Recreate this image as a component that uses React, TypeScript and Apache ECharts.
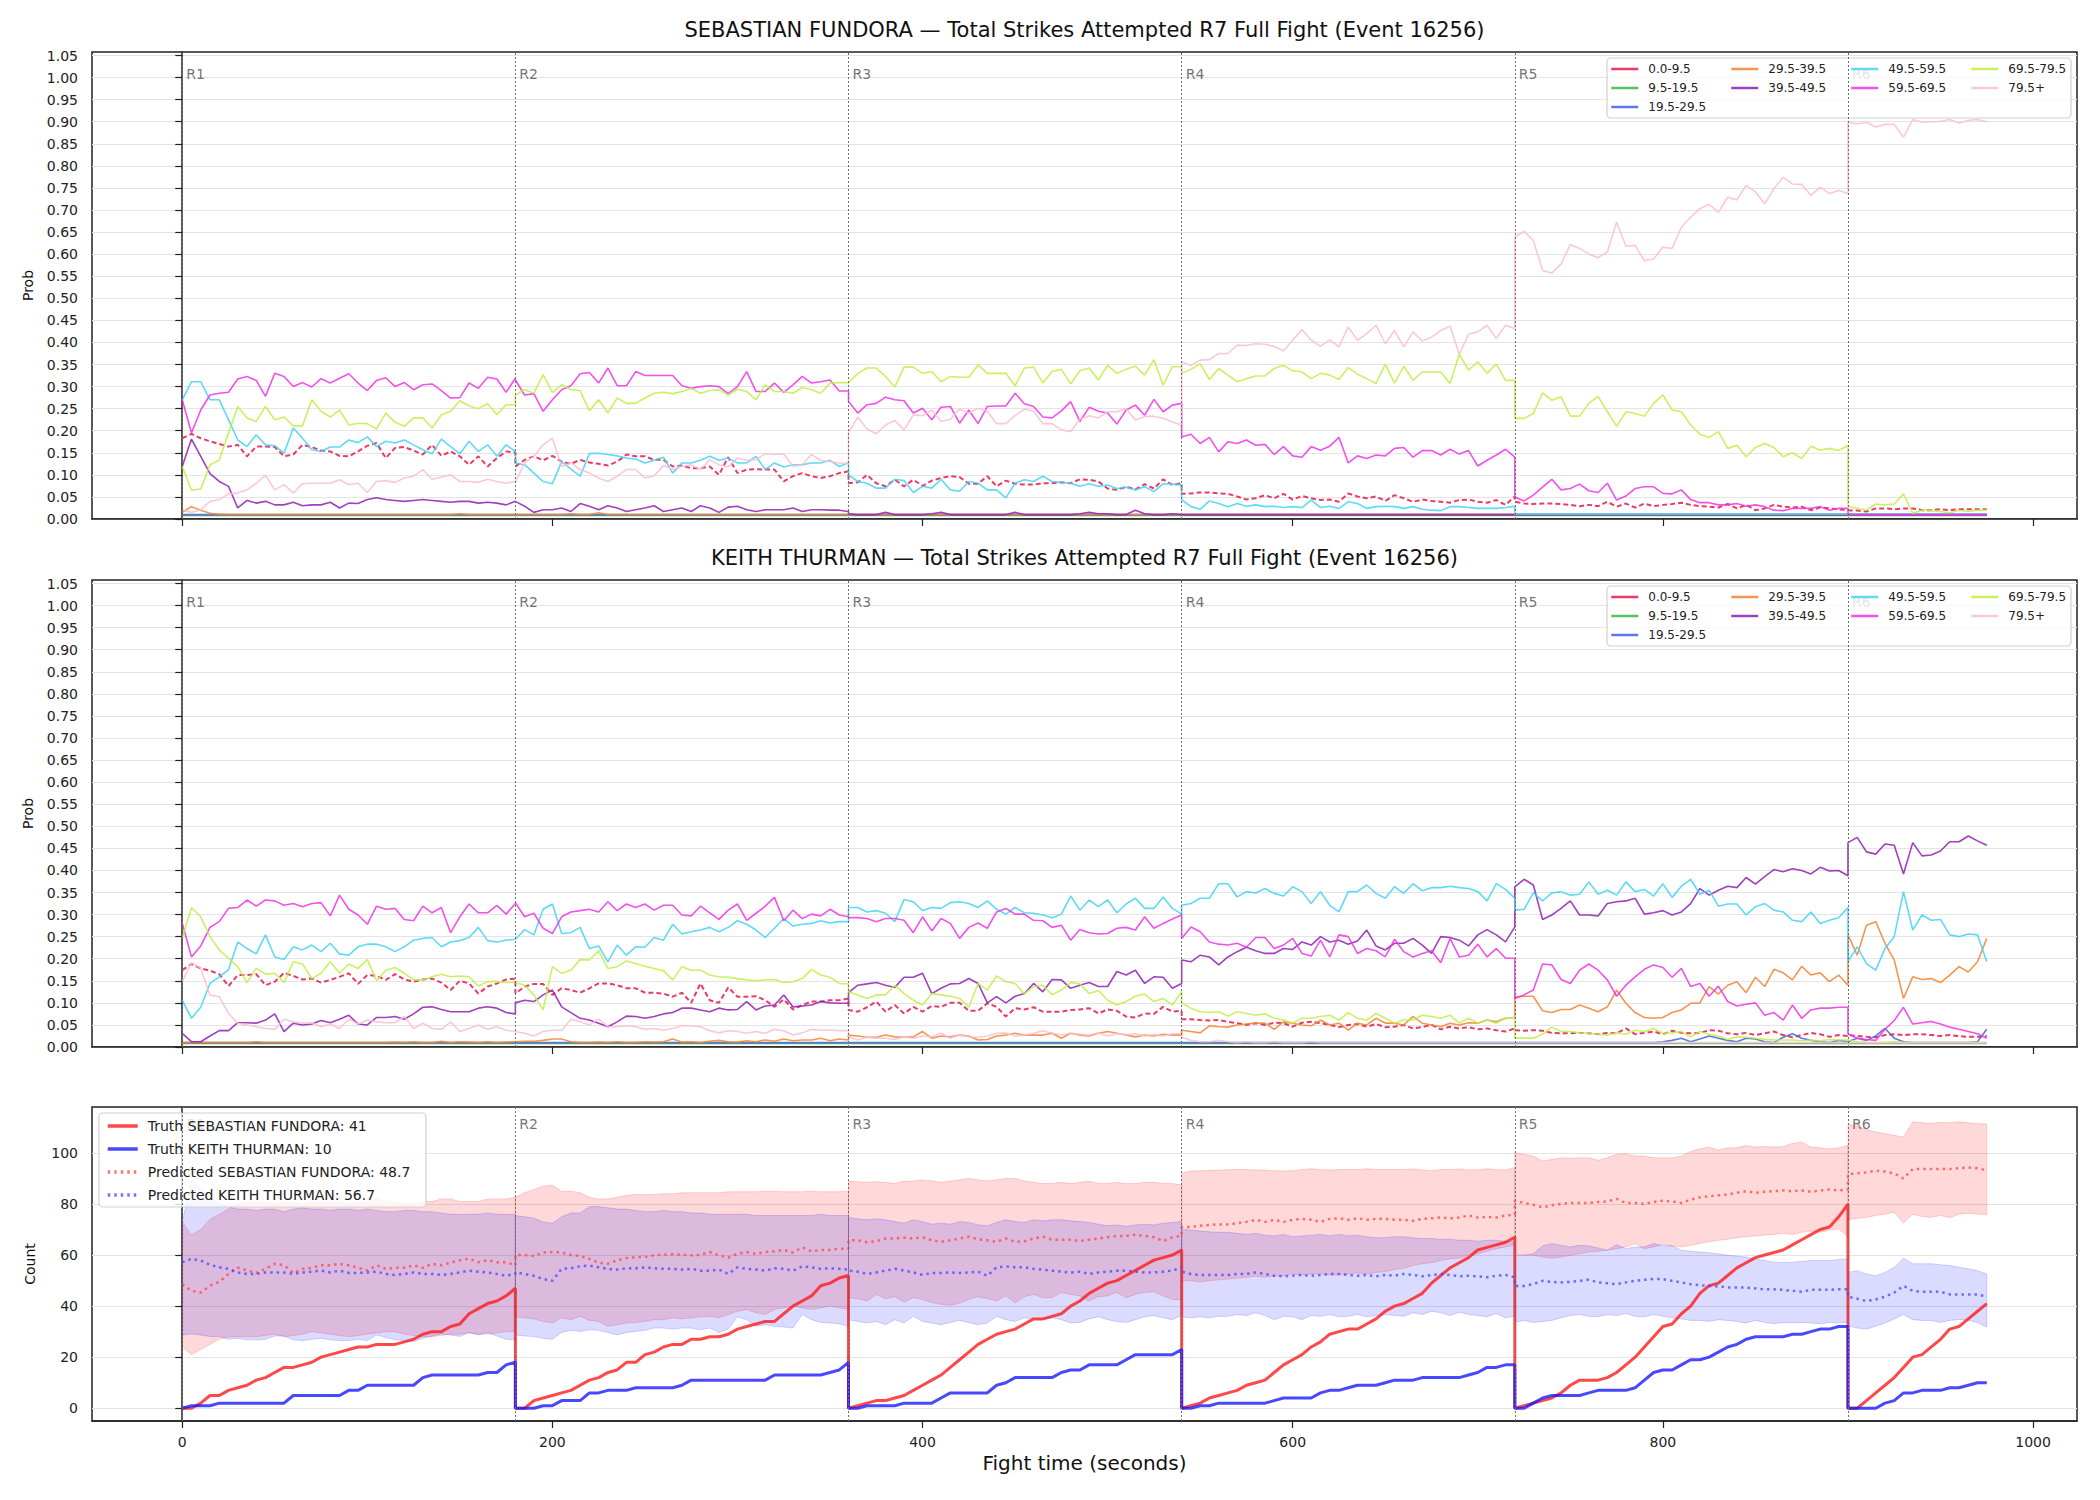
import React, { useEffect, useRef } from 'react';
import * as echarts from 'echarts';

// ---------- time grid ----------
const STEP = 5;
const ROUND_STARTS = [0, 180, 360, 540, 720, 900];
const ROUND_ENDS = [180, 360, 540, 720, 900, 975];
const ROUND_LABELS = ['R1', 'R2', 'R3', 'R4', 'R5', 'R6'];
const X_TICKS = [0, 200, 400, 600, 800, 1000];
const PROB_TICKS = [0, 0.05, 0.1, 0.15, 0.2, 0.25, 0.3, 0.35, 0.4, 0.45, 0.5, 0.55, 0.6, 0.65, 0.7, 0.75, 0.8, 0.85, 0.9, 0.95, 1.0, 1.05];
const COUNT_TICKS = [0, 20, 40, 60, 80, 100];

const BUCKETS = ['0.0-9.5', '9.5-19.5', '19.5-29.5', '29.5-39.5', '39.5-49.5', '49.5-59.5', '59.5-69.5', '69.5-79.5', '79.5+'];
const BUCKET_COLORS = ['#e6194B', '#3cb44b', '#4363d8', '#f58231', '#911eb4', '#42d4f4', '#f032e6', '#bfef45', '#fabed4'];

const TITLE_F = 'SEBASTIAN FUNDORA — Total Strikes Attempted R7 Full Fight (Event 16256)';
const TITLE_T = 'KEITH THURMAN — Total Strikes Attempted R7 Full Fight (Event 16256)';
const LEGEND_BOTTOM = ['Truth SEBASTIAN FUNDORA: 41', 'Truth KEITH THURMAN: 10', 'Predicted SEBASTIAN FUNDORA: 48.7', 'Predicted KEITH THURMAN: 56.7'];

// ---------- SEBASTIAN FUNDORA bucket probabilities (one entry per round; a number = flat round) ----------
const F_B0 = [
  [0.183,0.193,0.183,0.176,0.17,0.164,0.168,0.142,0.164,0.164,0.163,0.142,0.146,0.168,0.163,0.155,0.153,0.143,0.142,0.153,0.166,0.172,0.138,0.161,0.163,0.155,0.146,0.168,0.143,0.153,0.142,0.123,0.142,0.119,0.138,0.153,0.151],
  [0.119,0.134,0.142,0.133,0.143,0.13,0.125,0.134,0.128,0.125,0.121,0.13,0.146,0.142,0.142,0.134,0.134,0.119,0.121,0.115,0.115,0.119,0.1,0.14,0.104,0.112,0.113,0.112,0.112,0.085,0.097,0.104,0.097,0.093,0.097,0.104,0.108],
  [0.081,0.083,0.1,0.081,0.074,0.089,0.074,0.089,0.075,0.087,0.093,0.097,0.095,0.08,0.08,0.097,0.074,0.087,0.08,0.078,0.078,0.081,0.081,0.083,0.081,0.09,0.089,0.085,0.069,0.066,0.073,0.067,0.079,0.069,0.09,0.077,0.081],
  [0.057,0.058,0.06,0.06,0.058,0.057,0.051,0.044,0.047,0.054,0.047,0.057,0.044,0.052,0.047,0.043,0.044,0.039,0.058,0.051,0.047,0.051,0.041,0.054,0.047,0.039,0.044,0.041,0.039,0.037,0.043,0.044,0.039,0.037,0.043,0.032,0.051],
  [0.039,0.035,0.034,0.035,0.035,0.034,0.032,0.029,0.032,0.029,0.039,0.028,0.035,0.026,0.035,0.029,0.032,0.034,0.037,0.032,0.029,0.028,0.026,0.034,0.024,0.032,0.02,0.024,0.032,0.028,0.026,0.028,0.02,0.026,0.024,0.022,0.02],
  [0.02,0.019,0.017,0.024,0.024,0.022,0.024,0.024,0.02,0.02,0.022,0.02,0.022,0.022,0.022,0.022],
];
const F_B1 = [0.008, 0.008, 0.008, 0.008, 0.008, 0.008];
const F_B2 = [0.01, 0.01, 0.01, 0.01, 0.01, 0.01];
const F_B3 = [
  [0.015,0.028,0.02,0.013,0.011,0.01,0.01,0.01,0.01,0.01,0.01,0.01,0.01,0.01,0.01,0.01,0.01,0.01,0.01,0.01,0.01,0.01,0.01,0.01,0.01,0.01,0.01,0.01,0.01,0.01,0.012,0.01,0.01,0.01,0.01,0.01,0.01],
  [0.01,0.01,0.01,0.01,0.01,0.01,0.012,0.01,0.01,0.014,0.01,0.01,0.01,0.01,0.01,0.01,0.01,0.01,0.01,0.01,0.01,0.01,0.01,0.01,0.01,0.01,0.01,0.01,0.01,0.01,0.01,0.01,0.01,0.01,0.01,0.01,0.01],
  0.01, 0.01, 0.01, 0.01,
];
const F_B4 = [
  [0.119,0.181,0.142,0.103,0.085,0.074,0.025,0.042,0.036,0.04,0.032,0.032,0.038,0.03,0.032,0.032,0.038,0.025,0.036,0.035,0.044,0.048,0.044,0.042,0.04,0.042,0.044,0.042,0.04,0.038,0.04,0.04,0.036,0.038,0.036,0.032,0.04],
  [0.04,0.029,0.015,0.021,0.021,0.025,0.017,0.035,0.029,0.021,0.03,0.025,0.017,0.021,0.025,0.03,0.017,0.021,0.025,0.017,0.03,0.025,0.015,0.027,0.029,0.021,0.017,0.021,0.021,0.021,0.025,0.017,0.021,0.021,0.02,0.02,0.017],
  [0.012,0.01,0.01,0.01,0.015,0.01,0.01,0.01,0.01,0.012,0.015,0.01,0.01,0.01,0.01,0.01,0.01,0.01,0.015,0.01,0.01,0.01,0.01,0.01,0.01,0.012,0.015,0.012,0.012,0.01,0.01,0.02,0.012,0.01,0.01,0.012,0.01],
  0.01, 0.01, 0.01,
];
const F_B5 = [
  [0.27,0.311,0.311,0.27,0.27,0.225,0.179,0.164,0.191,0.168,0.166,0.149,0.206,0.183,0.157,0.153,0.163,0.163,0.179,0.173,0.186,0.164,0.176,0.172,0.179,0.168,0.157,0.148,0.181,0.164,0.148,0.176,0.153,0.168,0.142,0.168,0.153],
  [0.127,0.123,0.104,0.085,0.08,0.13,0.113,0.097,0.148,0.149,0.146,0.143,0.138,0.136,0.127,0.133,0.14,0.104,0.127,0.127,0.133,0.142,0.133,0.138,0.127,0.127,0.142,0.112,0.127,0.118,0.123,0.123,0.127,0.127,0.133,0.119,0.128],
  [0.1,0.085,0.081,0.07,0.07,0.09,0.087,0.06,0.074,0.07,0.09,0.066,0.063,0.085,0.081,0.066,0.066,0.048,0.081,0.089,0.085,0.097,0.085,0.083,0.081,0.074,0.08,0.074,0.077,0.069,0.072,0.066,0.073,0.062,0.08,0.079,0.077],
  [0.044,0.028,0.022,0.041,0.035,0.028,0.035,0.029,0.032,0.028,0.029,0.026,0.028,0.026,0.043,0.026,0.029,0.024,0.039,0.035,0.024,0.028,0.029,0.028,0.024,0.028,0.022,0.02,0.019,0.028,0.028,0.026,0.024,0.024,0.024,0.026,0.029],
  0.011, 0.011,
];
const F_B6 = [
  [0.27,0.195,0.247,0.281,0.285,0.287,0.317,0.323,0.314,0.278,0.33,0.323,0.3,0.309,0.299,0.318,0.308,0.319,0.329,0.308,0.291,0.314,0.32,0.3,0.309,0.293,0.304,0.306,0.291,0.274,0.275,0.308,0.296,0.321,0.317,0.287,0.319],
  [0.315,0.281,0.284,0.244,0.27,0.293,0.302,0.329,0.332,0.308,0.342,0.302,0.302,0.334,0.325,0.325,0.325,0.325,0.302,0.296,0.3,0.302,0.3,0.284,0.3,0.334,0.289,0.289,0.308,0.287,0.304,0.323,0.308,0.311,0.315,0.29,0.29],
  [0.266,0.24,0.259,0.262,0.276,0.27,0.268,0.24,0.251,0.225,0.253,0.255,0.217,0.247,0.216,0.255,0.256,0.256,0.285,0.261,0.255,0.231,0.229,0.245,0.266,0.221,0.253,0.244,0.24,0.215,0.247,0.258,0.235,0.271,0.243,0.258,0.262],
  [0.186,0.192,0.171,0.185,0.152,0.175,0.171,0.179,0.167,0.169,0.146,0.164,0.143,0.14,0.164,0.156,0.165,0.185,0.127,0.143,0.137,0.145,0.143,0.16,0.162,0.14,0.155,0.155,0.145,0.158,0.147,0.155,0.12,0.133,0.145,0.158,0.14],
  [0.05,0.041,0.054,0.072,0.09,0.066,0.069,0.079,0.064,0.06,0.081,0.043,0.052,0.069,0.073,0.073,0.058,0.057,0.066,0.044,0.037,0.037,0.032,0.032,0.035,0.029,0.032,0.028,0.02,0.019,0.024,0.024,0.024,0.028,0.02,0.024,0.024],
  0.01,
];
const F_B7 = [
  [0.119,0.065,0.068,0.123,0.133,0.195,0.255,0.229,0.221,0.255,0.225,0.231,0.211,0.211,0.27,0.244,0.231,0.247,0.213,0.217,0.216,0.204,0.24,0.219,0.21,0.229,0.229,0.206,0.236,0.244,0.268,0.256,0.25,0.261,0.236,0.259,0.259],
  [0.281,0.293,0.285,0.327,0.287,0.304,0.293,0.291,0.245,0.27,0.24,0.274,0.262,0.262,0.274,0.285,0.287,0.284,0.289,0.296,0.285,0.291,0.293,0.281,0.294,0.289,0.27,0.304,0.289,0.289,0.285,0.298,0.293,0.285,0.308,0.309,0.309],
  [0.31,0.33,0.342,0.342,0.323,0.299,0.344,0.344,0.33,0.334,0.311,0.323,0.321,0.321,0.349,0.33,0.33,0.33,0.302,0.342,0.344,0.308,0.334,0.339,0.306,0.336,0.342,0.315,0.348,0.33,0.339,0.346,0.326,0.361,0.303,0.345,0.345],
  [0.33,0.339,0.352,0.316,0.341,0.326,0.311,0.318,0.324,0.324,0.341,0.348,0.336,0.333,0.318,0.33,0.326,0.316,0.343,0.328,0.318,0.307,0.351,0.308,0.346,0.314,0.333,0.333,0.333,0.307,0.373,0.337,0.356,0.33,0.351,0.314,0.314],
  [0.228,0.228,0.239,0.286,0.269,0.277,0.233,0.233,0.262,0.278,0.243,0.21,0.243,0.239,0.233,0.262,0.281,0.247,0.243,0.213,0.192,0.185,0.198,0.16,0.167,0.141,0.162,0.171,0.162,0.141,0.15,0.137,0.165,0.156,0.16,0.155,0.167],
  [0.029,0.024,0.02,0.034,0.032,0.034,0.057,0.013,0.02,0.019,0.017,0.014,0.02,0.017,0.02,0.02],
];
const F_B8 = [
  [0.021,0.015,0.021,0.04,0.044,0.057,0.059,0.066,0.081,0.099,0.066,0.078,0.059,0.08,0.081,0.081,0.081,0.089,0.078,0.081,0.06,0.085,0.087,0.083,0.093,0.097,0.112,0.09,0.095,0.1,0.085,0.085,0.083,0.09,0.085,0.081,0.085],
  [0.083,0.127,0.142,0.168,0.183,0.119,0.127,0.112,0.104,0.093,0.085,0.097,0.112,0.112,0.093,0.098,0.121,0.112,0.119,0.123,0.112,0.134,0.123,0.118,0.138,0.133,0.134,0.148,0.146,0.148,0.119,0.123,0.146,0.133,0.13,0.127,0.125],
  [0.195,0.231,0.204,0.193,0.213,0.223,0.202,0.236,0.234,0.247,0.221,0.226,0.249,0.24,0.251,0.244,0.216,0.216,0.234,0.249,0.244,0.216,0.216,0.202,0.198,0.226,0.234,0.229,0.243,0.243,0.25,0.224,0.232,0.233,0.228,0.22,0.213],
  [0.356,0.348,0.36,0.361,0.375,0.375,0.394,0.393,0.397,0.396,0.391,0.381,0.405,0.429,0.405,0.391,0.406,0.39,0.435,0.405,0.42,0.439,0.397,0.427,0.39,0.424,0.403,0.412,0.427,0.437,0.373,0.419,0.424,0.439,0.409,0.439,0.431],
  [0.639,0.652,0.631,0.563,0.557,0.578,0.622,0.613,0.6,0.592,0.605,0.673,0.618,0.62,0.585,0.589,0.616,0.613,0.661,0.684,0.703,0.713,0.695,0.729,0.723,0.756,0.741,0.714,0.748,0.774,0.759,0.758,0.733,0.752,0.737,0.745,0.737],
  [0.899,0.895,0.899,0.888,0.894,0.894,0.865,0.905,0.899,0.9,0.901,0.905,0.897,0.903,0.905,0.9],
];

// ---------- KEITH THURMAN bucket probabilities ----------
const T_B0 = [
  [0.174,0.188,0.178,0.173,0.165,0.138,0.163,0.163,0.165,0.14,0.148,0.168,0.161,0.153,0.155,0.146,0.152,0.159,0.167,0.143,0.163,0.161,0.152,0.165,0.153,0.148,0.153,0.155,0.146,0.129,0.15,0.144,0.121,0.137,0.144,0.153,0.155],
  [0.121,0.137,0.143,0.143,0.118,0.133,0.129,0.123,0.133,0.144,0.144,0.14,0.133,0.133,0.123,0.123,0.121,0.114,0.123,0.1,0.144,0.106,0.1,0.135,0.114,0.114,0.115,0.106,0.091,0.108,0.085,0.095,0.103,0.103,0.106,0.106,0.11],
  [0.084,0.08,0.09,0.103,0.08,0.095,0.076,0.091,0.08,0.093,0.091,0.1,0.1,0.082,0.082,0.099,0.091,0.069,0.088,0.085,0.09,0.08,0.08,0.08,0.084,0.085,0.088,0.076,0.085,0.082,0.069,0.067,0.076,0.075,0.091,0.08,0.082],
  [0.063,0.063,0.061,0.06,0.061,0.057,0.054,0.05,0.054,0.05,0.055,0.054,0.046,0.055,0.057,0.054,0.05,0.045,0.05,0.052,0.046,0.052,0.045,0.046,0.05,0.042,0.045,0.05,0.04,0.046,0.042,0.045,0.04,0.042,0.038,0.035,0.042],
  [0.038,0.037,0.038,0.037,0.032,0.031,0.031,0.032,0.031,0.029,0.032,0.031,0.042,0.029,0.032,0.035,0.029,0.037,0.032,0.031,0.032,0.038,0.037,0.031,0.029,0.032,0.027,0.031,0.035,0.027,0.022,0.027,0.032,0.029,0.023,0.027,0.025],
  [0.027,0.025,0.023,0.022,0.027,0.029,0.027,0.029,0.029,0.027,0.025,0.027,0.025,0.023,0.023,0.025],
];
const T_B1 = [0.008, 0.008, 0.008, 0.008, 0.008, 0.008];
const T_B2 = [
  0.01, 0.01, 0.01, 0.01,
  [0.01,0.01,0.01,0.01,0.01,0.01,0.01,0.01,0.01,0.01,0.01,0.01,0.01,0.01,0.01,0.01,0.012,0.015,0.02,0.012,0.018,0.025,0.02,0.015,0.012,0.02,0.018,0.012,0.01,0.022,0.03,0.02,0.015,0.012,0.01,0.015,0.012],
  [0.012,0.02,0.015,0.025,0.042,0.02,0.012,0.01,0.01,0.01,0.01,0.01,0.01,0.01,0.012,0.04],
];
const T_B3 = [
  [0.01,0.01,0.01,0.01,0.01,0.01,0.01,0.01,0.012,0.01,0.01,0.01,0.01,0.01,0.01,0.01,0.01,0.01,0.01,0.01,0.01,0.01,0.01,0.011,0.01,0.012,0.01,0.01,0.013,0.01,0.012,0.011,0.01,0.012,0.01,0.011,0.012],
  [0.012,0.013,0.013,0.015,0.018,0.018,0.012,0.01,0.01,0.011,0.01,0.012,0.01,0.01,0.012,0.011,0.012,0.018,0.011,0.012,0.01,0.013,0.015,0.012,0.011,0.014,0.012,0.016,0.013,0.018,0.014,0.016,0.016,0.02,0.014,0.018,0.016],
  [0.027,0.025,0.022,0.022,0.027,0.023,0.022,0.023,0.035,0.02,0.025,0.023,0.027,0.025,0.016,0.017,0.025,0.027,0.031,0.027,0.027,0.027,0.031,0.02,0.031,0.027,0.025,0.031,0.035,0.031,0.027,0.023,0.027,0.025,0.029,0.027,0.027],
  [0.038,0.035,0.032,0.048,0.046,0.045,0.05,0.052,0.054,0.054,0.04,0.057,0.054,0.05,0.048,0.061,0.05,0.054,0.038,0.054,0.05,0.065,0.054,0.054,0.05,0.069,0.054,0.05,0.046,0.054,0.05,0.055,0.054,0.061,0.057,0.065,0.065],
  [0.114,0.115,0.115,0.082,0.078,0.085,0.085,0.095,0.088,0.08,0.091,0.129,0.099,0.078,0.067,0.065,0.067,0.078,0.084,0.099,0.1,0.137,0.12,0.14,0.148,0.123,0.158,0.137,0.176,0.168,0.152,0.183,0.163,0.168,0.148,0.163,0.14],
  [0.254,0.208,0.276,0.284,0.235,0.197,0.11,0.159,0.153,0.155,0.146,0.163,0.182,0.17,0.193,0.246],
];
const T_B4 = [
  [0.031,0.012,0.012,0.025,0.037,0.037,0.055,0.055,0.054,0.061,0.075,0.035,0.054,0.05,0.052,0.06,0.055,0.063,0.072,0.052,0.05,0.067,0.067,0.069,0.063,0.075,0.09,0.091,0.085,0.08,0.08,0.08,0.088,0.091,0.088,0.078,0.075],
  [0.1,0.106,0.103,0.118,0.129,0.091,0.078,0.065,0.061,0.054,0.046,0.057,0.07,0.069,0.065,0.069,0.075,0.078,0.088,0.088,0.084,0.08,0.088,0.084,0.085,0.103,0.084,0.093,0.095,0.118,0.091,0.093,0.095,0.103,0.1,0.099,0.099],
  [0.123,0.14,0.143,0.146,0.14,0.135,0.158,0.158,0.167,0.121,0.133,0.143,0.144,0.155,0.144,0.1,0.114,0.1,0.115,0.121,0.144,0.125,0.153,0.152,0.133,0.14,0.146,0.137,0.137,0.171,0.163,0.174,0.144,0.159,0.158,0.133,0.144],
  [0.197,0.193,0.208,0.204,0.186,0.204,0.216,0.226,0.218,0.212,0.212,0.223,0.221,0.238,0.231,0.25,0.238,0.242,0.233,0.24,0.265,0.229,0.22,0.235,0.235,0.246,0.231,0.212,0.25,0.248,0.242,0.229,0.254,0.266,0.254,0.238,0.272],
  [0.363,0.38,0.367,0.289,0.299,0.314,0.331,0.299,0.299,0.297,0.325,0.329,0.331,0.337,0.301,0.304,0.309,0.299,0.306,0.325,0.359,0.344,0.355,0.364,0.361,0.384,0.369,0.386,0.402,0.397,0.404,0.4,0.392,0.407,0.399,0.4,0.388],
  [0.463,0.475,0.442,0.437,0.46,0.457,0.392,0.463,0.433,0.435,0.444,0.465,0.465,0.478,0.467,0.457],
];
const T_B5 = [
  [0.106,0.065,0.09,0.144,0.159,0.175,0.238,0.223,0.211,0.254,0.204,0.198,0.227,0.22,0.231,0.216,0.235,0.211,0.208,0.227,0.233,0.233,0.227,0.216,0.227,0.242,0.246,0.248,0.227,0.238,0.241,0.248,0.271,0.241,0.238,0.242,0.244],
  [0.244,0.266,0.254,0.312,0.324,0.257,0.259,0.271,0.223,0.229,0.193,0.231,0.208,0.227,0.226,0.248,0.242,0.278,0.256,0.261,0.265,0.271,0.261,0.271,0.286,0.278,0.265,0.248,0.269,0.291,0.274,0.278,0.28,0.286,0.281,0.284,0.284],
  [0.316,0.316,0.306,0.309,0.303,0.284,0.334,0.329,0.309,0.316,0.314,0.327,0.329,0.325,0.316,0.331,0.312,0.301,0.316,0.304,0.303,0.299,0.293,0.301,0.342,0.31,0.333,0.318,0.333,0.304,0.324,0.337,0.314,0.314,0.34,0.314,0.301],
  [0.321,0.325,0.337,0.337,0.37,0.37,0.34,0.352,0.349,0.359,0.348,0.342,0.363,0.352,0.325,0.352,0.321,0.306,0.352,0.352,0.367,0.348,0.337,0.363,0.348,0.37,0.354,0.361,0.361,0.364,0.361,0.359,0.352,0.331,0.37,0.357,0.337],
  [0.31,0.312,0.349,0.331,0.349,0.352,0.344,0.346,0.374,0.346,0.355,0.344,0.374,0.352,0.357,0.342,0.37,0.339,0.364,0.38,0.346,0.355,0.319,0.324,0.324,0.299,0.318,0.325,0.31,0.306,0.287,0.284,0.306,0.28,0.287,0.293,0.316],
  [0.193,0.227,0.189,0.174,0.223,0.25,0.352,0.265,0.299,0.287,0.289,0.254,0.25,0.256,0.254,0.193],
];
const T_B6 = [
  [0.281,0.204,0.229,0.271,0.284,0.314,0.316,0.333,0.319,0.333,0.331,0.321,0.325,0.318,0.325,0.327,0.297,0.344,0.312,0.299,0.278,0.319,0.312,0.314,0.289,0.286,0.319,0.304,0.316,0.259,0.295,0.324,0.304,0.304,0.321,0.301,0.325],
  [0.327,0.295,0.303,0.269,0.257,0.295,0.306,0.309,0.312,0.306,0.329,0.309,0.324,0.316,0.324,0.31,0.321,0.321,0.299,0.297,0.319,0.304,0.289,0.31,0.324,0.287,0.303,0.319,0.339,0.286,0.31,0.291,0.301,0.297,0.312,0.299,0.295],
  [0.293,0.293,0.291,0.284,0.291,0.291,0.287,0.259,0.295,0.263,0.291,0.28,0.246,0.271,0.281,0.269,0.306,0.314,0.301,0.301,0.287,0.286,0.271,0.276,0.242,0.266,0.259,0.256,0.257,0.269,0.271,0.265,0.295,0.269,0.28,0.29,0.299],
  [0.246,0.272,0.261,0.238,0.233,0.231,0.235,0.226,0.248,0.248,0.223,0.231,0.246,0.212,0.206,0.242,0.204,0.254,0.25,0.212,0.223,0.218,0.204,0.244,0.216,0.204,0.212,0.218,0.191,0.246,0.204,0.208,0.233,0.204,0.223,0.201,0.201],
  [0.11,0.118,0.129,0.188,0.186,0.153,0.144,0.174,0.188,0.174,0.152,0.115,0.14,0.159,0.176,0.186,0.18,0.158,0.178,0.137,0.144,0.115,0.138,0.103,0.093,0.097,0.1,0.072,0.078,0.061,0.095,0.065,0.084,0.088,0.088,0.09,0.09],
  [0.03,0.02,0.017,0.015,0.04,0.06,0.09,0.052,0.055,0.058,0.052,0.045,0.04,0.035,0.03,0.02],
];
const T_B7 = [
  [0.246,0.316,0.295,0.25,0.22,0.201,0.182,0.146,0.178,0.165,0.167,0.146,0.193,0.188,0.155,0.167,0.193,0.167,0.188,0.178,0.198,0.15,0.174,0.18,0.167,0.152,0.152,0.159,0.165,0.159,0.161,0.159,0.138,0.148,0.148,0.146,0.146],
  [0.146,0.14,0.118,0.084,0.182,0.167,0.174,0.198,0.197,0.218,0.178,0.182,0.195,0.189,0.183,0.178,0.173,0.152,0.182,0.174,0.174,0.163,0.159,0.158,0.155,0.152,0.15,0.152,0.153,0.146,0.148,0.155,0.176,0.163,0.158,0.144,0.143],
  [0.125,0.118,0.11,0.118,0.118,0.14,0.121,0.106,0.095,0.121,0.118,0.115,0.11,0.09,0.144,0.129,0.161,0.148,0.144,0.121,0.137,0.14,0.118,0.129,0.146,0.143,0.121,0.128,0.106,0.095,0.103,0.115,0.12,0.103,0.11,0.095,0.125],
  [0.1,0.088,0.08,0.078,0.08,0.07,0.08,0.076,0.072,0.075,0.065,0.061,0.054,0.065,0.065,0.069,0.072,0.061,0.078,0.065,0.061,0.076,0.065,0.054,0.061,0.061,0.072,0.069,0.065,0.072,0.054,0.065,0.054,0.061,0.054,0.065,0.065],
  [0.02,0.02,0.02,0.029,0.045,0.035,0.035,0.032,0.031,0.029,0.027,0.032,0.029,0.038,0.035,0.042,0.031,0.032,0.035,0.023,0.035,0.029,0.025,0.017,0.023,0.022,0.02,0.017,0.016,0.016,0.016,0.014,0.016,0.014,0.017,0.016,0.016],
  [0.015,0.012,0.01,0.01,0.01,0.012,0.01,0.01,0.01,0.01,0.01,0.01,0.01,0.01,0.01,0.01],
];
const T_B8 = [
  [0.148,0.191,0.178,0.118,0.114,0.076,0.054,0.05,0.046,0.042,0.04,0.063,0.057,0.054,0.055,0.046,0.052,0.042,0.063,0.052,0.061,0.057,0.055,0.055,0.069,0.042,0.054,0.042,0.04,0.057,0.035,0.042,0.05,0.04,0.046,0.038,0.035],
  [0.035,0.031,0.025,0.035,0.038,0.038,0.063,0.057,0.05,0.063,0.046,0.046,0.048,0.046,0.04,0.042,0.038,0.042,0.048,0.048,0.046,0.037,0.032,0.037,0.035,0.031,0.035,0.031,0.04,0.037,0.027,0.032,0.04,0.038,0.038,0.037,0.037],
  [0.023,0.016,0.022,0.02,0.02,0.017,0.023,0.02,0.025,0.023,0.031,0.02,0.027,0.023,0.022,0.025,0.031,0.032,0.025,0.027,0.031,0.037,0.031,0.027,0.031,0.029,0.027,0.032,0.025,0.03,0.028,0.03,0.025,0.028,0.025,0.03,0.03],
  [0.022,0.015,0.012,0.012,0.015,0.012,0.01,0.012,0.01,0.01,0.012,0.01,0.01,0.01,0.012,0.01,0.01,0.01,0.01,0.01,0.01,0.01,0.01,0.01,0.01,0.01,0.01,0.01,0.01,0.01,0.01,0.01,0.01,0.01,0.01,0.01,0.01],
  0.01, 0.01,
];

// ---------- counts ----------
const TRUTH_F = [
  [0,0,2,5,5,7,8,9,11,12,14,16,16,17,18,20,21,22,23,24,24,25,25,25,26,27,29,30,30,32,33,37,39,41,42,44,47],
  [0,0,3,4,5,6,7,9,11,12,14,15,18,18,21,22,24,25,25,27,27,28,28,29,31,32,33,34,34,37,40,42,44,48,49,51,52],
  [0,1,2,3,3,4,5,7,9,11,13,16,19,22,25,27,29,30,31,33,35,35,36,37,40,42,45,47,49,50,52,54,56,58,59,60,62],
  [0,1,2,4,5,6,7,9,10,11,14,17,19,21,24,26,29,30,31,31,33,35,38,40,41,43,45,49,52,55,57,59,62,63,64,65,67],
  [0,1,2,3,4,6,9,11,11,11,12,14,17,20,24,28,32,33,37,40,45,48,49,52,55,57,59,60,61,62,64,66,68,70,71,75,80],
  [0,0,3,6,9,12,16,20,21,24,27,31,32,35,38,41],
];
const TRUTH_T = [
  [0,1,1,1,2,2,2,2,2,2,2,2,5,5,5,5,5,5,7,7,9,9,9,9,9,9,12,13,13,13,13,13,13,14,14,17,18],
  [0,0,0,1,1,3,3,3,6,6,7,7,7,8,8,8,8,8,9,11,11,11,11,11,11,11,11,11,13,13,13,13,13,13,14,15,18],
  [0,0,1,1,1,1,2,2,2,2,4,6,6,6,6,6,9,10,12,12,12,12,12,14,15,15,17,17,17,17,19,21,21,21,21,21,23],
  [0,0,1,1,2,2,2,2,2,2,3,4,4,4,4,6,7,7,8,9,9,9,10,11,11,11,12,12,12,12,12,13,14,16,16,17,17],
  [0,0,2,4,5,5,5,5,6,7,7,7,7,8,11,14,15,15,17,19,19,20,22,24,25,27,28,28,28,28,29,29,30,31,31,32,32],
  [0,0,0,0,2,3,6,6,7,7,7,8,8,9,10,10],
];
const PRED_F = [
  [48.6,46.0,45.3,48.0,49.5,52.6,55.0,54.0,53.0,54.6,56.6,56.0,53.0,54.6,55.0,56.0,56.0,56.6,56.0,55.0,54.0,56.0,54.6,55.0,55.0,56.0,55.0,56.6,56.0,57.0,58.0,58.6,57.2,58.0,57.2,57.2,56.0],
  [60.0,60.0,59.6,61.0,61.2,61.0,60.0,59.6,58.5,57.0,56.6,58.0,58.8,59.2,59.2,59.9,60.1,60.3,60.1,59.9,60.1,61.2,59.9,59.0,60.5,61.2,60.5,61.2,61.5,62.0,61.0,63.0,61.5,62.0,62.0,62.5,62.5],
  [65.8,65.8,65.0,65.4,66.5,66.5,66.8,66.5,67.0,65.8,65.2,65.8,66.5,67.2,66.2,65.8,65.2,66.5,65.2,65.4,66.5,67.2,66.0,66.0,66.0,65.5,66.0,66.5,67.0,67.5,67.5,68.0,67.5,67.0,65.5,67.0,67.5],
  [71.0,71.0,71.5,71.8,72.0,72.0,72.5,73.0,73.8,73.0,73.8,73.0,73.8,74.2,73.8,73.0,74.2,74.4,73.8,74.4,73.8,74.2,74.2,73.8,73.8,73.4,74.2,74.4,74.7,74.4,74.7,75.5,74.7,75.0,74.7,75.5,75.8],
  [81.3,80.4,79.7,78.7,79.5,80.0,80.4,80.4,80.4,80.8,81.0,82.0,80.4,80.4,80.0,80.8,81.3,81.0,80.4,81.7,82.6,83.0,83.4,83.7,84.4,85.0,84.4,84.8,85.0,85.3,85.0,85.3,84.8,85.3,85.7,85.3,85.7],
  [91.7,92.0,92.4,93.0,92.7,92.0,90.0,93.7,93.7,93.7,93.7,93.7,94.0,94.3,94.0,93.2],
];
const PRED_T = [
  [57.2,58.5,57.9,56.2,55.2,54.6,53.2,52.6,52.6,53.2,53.2,53.2,52.6,53.2,53.5,53.9,53.2,53.9,53.0,53.0,53.2,53.5,52.6,52.2,52.6,53.2,52.6,52.6,52.2,52.6,53.2,53.9,53.5,53.2,52.6,51.9,52.6],
  [53.2,52.6,51.9,50.6,49.9,54.6,54.8,55.6,55.9,55.2,54.6,54.3,54.8,54.8,55.2,54.8,54.6,54.6,54.3,54.6,53.9,53.9,54.3,52.6,55.2,54.6,54.3,53.9,54.8,54.6,53.9,55.6,55.2,54.6,54.8,54.6,54.3],
  [53.9,53.5,52.6,53.2,53.9,54.6,53.9,53.2,52.2,53.0,53.0,53.2,53.0,53.2,53.5,51.9,55.2,55.6,55.2,55.2,54.6,54.3,53.9,53.5,53.2,53.5,52.6,53.2,53.5,53.9,53.9,53.5,53.2,53.2,53.5,53.9,55.2],
  [53.5,52.6,52.2,52.2,52.2,52.2,52.6,52.6,53.2,52.6,51.9,51.7,51.9,52.2,51.9,52.2,52.6,52.6,52.2,51.9,52.2,51.7,52.2,51.9,52.6,52.2,51.7,52.2,52.6,52.2,51.7,51.9,51.7,51.3,51.9,52.2,51.3],
  [47.9,47.9,48.6,49.9,49.5,49.3,49.5,49.9,50.3,49.3,49.0,48.6,49.3,49.9,50.3,50.6,50.6,49.9,49.3,48.6,48.2,47.9,47.7,47.3,47.3,47.3,46.9,46.6,46.6,46.4,46.0,45.6,46.4,46.4,46.4,46.6,46.6],
  [43.7,42.9,42.0,42.6,43.7,45.3,47.9,46.0,45.6,45.6,45.6,44.6,44.6,44.6,44.6,43.7],
];
const BAND_F_HI = [
  [73,68,70,74,76,78,80,81,81,81,80,81,81,80,81,81,81,81,80,81,81,82,81,81,80,80,81,81,82,82,81,81,81,82,82,82,82.6],
  [82.6,84.4,85.7,87.0,87.4,85.0,85.0,84.4,82.6,82.0,82.0,82.6,83.4,83.7,83.7,83.7,84,84,84.4,84.4,84.4,84.4,84.4,84.8,84.8,84.8,84.8,85,85,84.8,84.8,84.8,85,84.8,84.8,84.8,85],
  [89,88.7,88.5,88.7,88.5,88,89,89,89.5,89,88.5,89,89.5,90,89.5,89,89.5,90,90,89,88.5,88,88,88.5,88,88.5,89,88,88,88.5,88,88,88.5,88.5,88,88,87.5],
  [92,93,93,93.2,93.2,93.5,93.5,93.5,93.3,93.3,93,93,93,93.5,93.8,93.5,93.3,93.5,93.5,93.5,93.8,93.5,93.5,93.5,93.5,93.8,93.3,93,93.5,93.5,93.8,93.3,93.5,93.8,93.5,93.3,94.3],
  [100.1,99.5,98.8,96.8,97.5,98.1,97.9,98.1,98.1,97.1,98.1,99.5,99.7,98.8,98.8,98.1,98.1,98.1,98.8,100.6,101.6,102.3,101.2,102.0,102.0,102.9,102.3,102.5,102.3,102.5,103.8,104.2,102.3,102.0,101.6,102.0,102.9],
  [111.3,110.5,109.2,108.2,107.5,106.9,106.2,112.2,111.8,111.5,112.0,111.8,112.2,111.8,111.5,111.3],
];
const BAND_F_LO = [
  [24,21,23,25,27,28,28,28,28,28.5,29,28,28.5,29,30,29.5,29,28.5,28,28.5,29,29.5,30,30,29,28.5,28,28,28.5,29,29,29.5,29,29,29.5,30,30],
  [35.8,35.4,35.0,34.0,33.4,35.4,34.7,36.0,34.4,34.0,32.1,32.7,33.4,33.6,34.0,34.7,34.7,35.4,35.0,35.4,35.8,36.0,35.4,36.7,38.0,38.7,37.4,36.7,38.7,39.3,40.0,39.3,38.7,39.3,40.0,39.3,38.7],
  [43.3,42.9,42.0,44.6,42.9,43.7,41.6,43.3,42.6,41.3,40.7,40.3,41.1,42.6,43.7,42.9,42.0,44.0,41.3,43.7,44.6,43.3,43.3,45.3,44.6,44.0,42.0,43.7,44.0,45.3,43.3,44.6,45.3,45.6,44.0,42.6,42.4],
  [49.9,49.9,49.5,49.9,50.3,50.6,50.9,51.3,51.7,51.3,51.7,51.9,52.6,52.2,52.6,52.6,52.2,52.2,52.6,53.0,52.6,53.2,53.5,54.3,54.8,55.9,56.6,57.0,57.9,58.5,58.8,59.9,60.5,61.5,62.5,63.2,63.8],
  [60.5,60.1,59.9,59.2,58.8,59.2,59.9,60.5,61.2,61.5,61.9,62.5,63.2,64.5,62.5,63.2,64.1,63.6,63.2,63.8,64.5,65.2,65.8,66.2,66.8,67.2,67.5,67.8,68.1,68.5,68.1,68.9,69.4,68.9,69.8,70.2,67.2],
  [73.8,74.4,74.7,75.5,76.0,76.8,72.5,76.0,75.1,74.7,75.5,74.7,76.0,76.4,76.0,75.8],
];
const BAND_T_HI = [
  [73,89,86,83,80,79,78,78,77.5,78,78,77,78,78.5,78,78,77.5,78,78,77.5,78,77.5,77,77,77.5,77.5,77,77,76.5,76,76,76,76,76.5,76,76,76],
  [75.5,75,74.5,73,72.5,75,76.5,76.5,79,79,78.5,78,78,77.5,77,77,77.5,77,77,76.5,76.5,76,76,76,76,76,75.5,75.5,75.5,75.5,75.5,75.5,75.5,76,75.5,75.5,75.5],
  [74.7,74.2,73.8,74.2,73.8,73.1,72.5,73.8,73.1,72.1,72.5,72.1,73.1,72.8,71.8,71.5,72.8,73.8,73.1,72.8,73.8,73.4,73.8,73.8,73.4,73.1,72.8,72.1,71.5,71.8,71.3,71.8,72.1,71.8,72.5,72.8,73.1],
  [70.2,69.8,69.4,69.1,68.9,68.9,68.5,68.1,68.5,67.8,67.5,68.1,67.2,67.5,67.8,68.1,67.5,68.1,67.5,67.8,67.2,66.8,66.8,67.2,67.2,66.8,66.5,66.5,66.2,66.2,65.8,65.8,65.4,65.8,65.8,65.4,65.2],
  [60.1,59.9,60.5,63.6,64.5,63.8,63.2,63.8,63.6,62.8,61.9,64.1,62.5,63.2,63.2,64.5,63.6,63.6,61.9,61.5,61.2,60.9,60.5,59.9,59.6,59.2,58.5,57.9,57.2,57.0,57.2,57.5,57.9,57.9,57.9,58.3,58.5],
  [53.2,53.9,52.6,51.9,53.2,55.2,58.8,56.6,56.6,56.6,56.2,55.9,55.2,54.6,53.9,52.6],
];
const BAND_T_LO = [
  [28.7,29.1,28.7,28.1,28.1,27.0,27.4,26.8,26.8,27.0,28.3,28.3,26.8,26.5,27.0,27.4,26.8,26.5,26.5,27.0,26.5,28.7,27.7,26.8,26.5,26.1,27.4,28.3,29.1,28.7,28.1,29.7,28.7,29.7,28.3,27.0,26.8],
  [28.7,28.3,28.1,27.4,27.0,29.7,30.5,30.1,30.7,30.5,29.7,28.7,29.7,30.1,30.5,31.4,31.4,31.0,31.4,31.4,30.7,31.4,29.7,31.0,35.8,34.7,32.1,32.7,32.1,31.8,31.4,36.7,34.7,33.6,33.4,33.1,32.1],
  [34.7,34.0,33.4,34.0,32.7,34.7,33.4,36.0,34.0,33.4,32.7,33.6,34.4,33.6,32.7,33.4,36.0,34.7,34.0,35.4,35.0,34.7,35.4,34.7,33.4,33.6,35.0,35.8,34.7,34.0,33.6,34.7,35.8,36.3,35.4,34.7,36.3],
  [35.8,35.4,35.8,35.4,36.0,36.0,36.7,36.3,37.4,36.3,34.7,36.0,35.8,34.7,36.3,36.0,36.7,35.8,36.0,36.7,35.8,36.3,36.7,36.3,36.0,37.4,36.7,38.0,37.4,36.3,37.6,36.7,36.3,35.8,37.1,35.4,36.0],
  [33.6,34.4,33.6,34.0,34.4,35.4,36.3,36.7,36.0,35.8,36.7,36.3,37.1,36.0,35.8,36.7,36.0,35.4,35.0,34.4,34.4,34.0,34.7,34.4,34.0,33.4,34.4,33.6,33.1,33.6,33.4,33.6,33.4,33.1,33.6,33.4,33.6],
  [32.3,31.4,31.0,32.1,33.4,35.0,36.7,34.7,34.4,34.4,33.6,34.4,34.7,34.4,33.6,31.8],
];

const F_PROB = [F_B0, F_B1, F_B2, F_B3, F_B4, F_B5, F_B6, F_B7, F_B8];
const T_PROB = [T_B0, T_B1, T_B2, T_B3, T_B4, T_B5, T_B6, T_B7, T_B8];

// ---------- layout ----------
const FONT = 'DejaVu Sans';
const GRIDS = [
  { left: 92, top: 52, width: 1985, height: 467 },
  { left: 92, top: 580, width: 1985, height: 467 },
  { left: 92, top: 1107, width: 1985, height: 314 },
];

type Round = number[] | number;
function roundPoints(r: Round, i: number): number[][] {
  const s = ROUND_STARTS[i];
  const e = ROUND_ENDS[i];
  if (typeof r === 'number') return [[s, r], [e, r]];
  return r.map((v, k) => [Math.min(s + k * STEP, e), v]);
}
function toPoints(rounds: Round[]): number[][] {
  const pts: number[][] = [];
  rounds.forEach((r, i) => roundPoints(r, i).forEach((p) => pts.push(p)));
  return pts;
}

function roundMarkLine() {
  return {
    silent: true,
    symbol: 'none',
    label: { show: false },
    lineStyle: { color: '#6e6e6e', type: [2, 2], width: 1 },
    data: ROUND_STARTS.map((x) => ({ xAxis: x })),
  };
}

function bandSeries(lo: Round[], hi: Round[], fill: string, edge: string) {
  return {
    type: 'custom',
    xAxisIndex: 2,
    yAxisIndex: 2,
    silent: true,
    z: 1,
    clip: true,
    data: ROUND_STARTS.map((s) => [s, 0]),
    encode: { x: 0, y: 1 },
    renderItem: (params: any, api: any) => {
      const i = params.dataIndex;
      const top = roundPoints(hi[i], i).map((p) => api.coord(p));
      const bottom = roundPoints(lo[i], i).map((p) => api.coord(p)).reverse();
      return {
        type: 'polygon',
        shape: { points: top.concat(bottom) },
        style: { fill, stroke: edge, lineWidth: 1 },
      };
    },
  };
}

function buildOption() {
  const xAxes = GRIDS.map((_, g) => ({
    type: 'value',
    gridIndex: g,
    min: -48.75,
    max: 1023.75,
    splitLine: { show: false },
    axisLine: { show: true, onZero: false, lineStyle: { color: '#222', width: 1.5 } },
    axisTick: { show: true, length: 7, customValues: X_TICKS, lineStyle: { color: '#222', width: 1.2 } },
    axisLabel: {
      show: g === 2, customValues: X_TICKS, fontSize: 14, color: '#222', fontFamily: FONT, margin: 14,
      formatter: (v: number) => String(v),
    },
  }));
  const yAxes: any[] = [0, 1].map((g) => ({
    type: 'value',
    gridIndex: g,
    min: 0,
    max: 1.058,
    interval: 0.05,
    splitLine: { show: true, lineStyle: { color: '#e4e4e4', width: 1 } },
    axisLine: { show: true, lineStyle: { color: '#222', width: 1.5 } },
    axisTick: { show: true, length: 7, customValues: PROB_TICKS, lineStyle: { color: '#222', width: 1.2 } },
    axisLabel: {
      customValues: PROB_TICKS,
      fontSize: 14,
      color: '#222',
      fontFamily: FONT,
      margin: 14,
      formatter: (v: number) => v.toFixed(2),
    },
  }));
  yAxes.push({
    type: 'value',
    gridIndex: 2,
    min: -5,
    max: 118,
    interval: 5,
    splitLine: { show: true, lineStyle: { color: '#e4e4e4', width: 1 } },
    axisLine: { show: true, lineStyle: { color: '#222', width: 1.5 } },
    axisTick: { show: true, length: 7, customValues: COUNT_TICKS, lineStyle: { color: '#222', width: 1.2 } },
    axisLabel: { customValues: COUNT_TICKS, fontSize: 14, color: '#222', fontFamily: FONT, margin: 14 },
  });

  const series: any[] = [];
  [F_PROB, T_PROB].forEach((panel, p) => {
    panel.forEach((rounds, b) => {
      series.push({
        type: 'line',
        name: BUCKETS[b],
        xAxisIndex: p,
        yAxisIndex: p,
        data: toPoints(rounds as Round[]),
        symbol: 'none',
        silent: true,
        z: 2,
        itemStyle: { color: BUCKET_COLORS[b] },
        lineStyle: {
          color: BUCKET_COLORS[b],
          width: b === 0 ? 2 : 1.6,
          type: b === 0 ? [5, 3] : 'solid',
          opacity: 0.85,
        },
        markLine: b === 1 ? roundMarkLine() : undefined,
      });
    });
  });

  series.push(bandSeries(BAND_F_LO, BAND_F_HI, 'rgba(255,0,0,0.15)', 'rgba(255,0,0,0.16)'));
  series.push(bandSeries(BAND_T_LO, BAND_T_HI, 'rgba(0,0,255,0.14)', 'rgba(0,0,255,0.16)'));

  const countLines = [
    { name: LEGEND_BOTTOM[0], data: TRUTH_F, color: 'rgba(255,20,20,0.78)', width: 3, type: 'solid' },
    { name: LEGEND_BOTTOM[1], data: TRUTH_T, color: 'rgba(20,20,255,0.78)', width: 3, type: 'solid' },
    { name: LEGEND_BOTTOM[2], data: PRED_F, color: 'rgba(255,70,70,0.75)', width: 2.5, type: [2.5, 4] },
    { name: LEGEND_BOTTOM[3], data: PRED_T, color: 'rgba(70,70,255,0.75)', width: 2.5, type: [2.5, 4] },
  ];
  countLines.forEach((c, i) => {
    series.push({
      type: 'line', name: c.name, xAxisIndex: 2, yAxisIndex: 2, data: toPoints(c.data), symbol: 'none', silent: true, z: 3,
      itemStyle: { color: c.color },
      lineStyle: { color: c.color, width: c.width, type: c.type },
      markLine: i === 0 ? roundMarkLine() : undefined,
    });
  });

  const COLS = [[0, 1, 2], [3, 4], [5, 6], [7, 8]];
  const COL_LEFT = [1610, 1730, 1850, 1970];
  const legends: any[] = [];
  [63, 591].forEach((top) => {
    COLS.forEach((col, ci) => {
      legends.push({
        data: col.map((b) => BUCKETS[b]),
        orient: 'vertical',
        left: COL_LEFT[ci],
        top,
        padding: 0,
        itemGap: 7,
        itemWidth: 27,
        itemHeight: 12,
        selectedMode: false,
        z: 6,
        itemStyle: { opacity: 0 },
        lineStyle: { type: 'solid', width: 2.5, opacity: 0.85 },
        textStyle: { fontSize: 12, lineHeight: 12, color: '#222', fontFamily: FONT, padding: [0, 0, 0, 5] },
      });
    });
  });
  legends.push({
    data: LEGEND_BOTTOM,
    orient: 'vertical',
    left: 106,
    top: 1119,
    padding: 0,
    itemGap: 9,
    itemWidth: 30,
    itemHeight: 14,
    selectedMode: false,
    z: 6,
    itemStyle: { opacity: 0 },
    lineStyle: { width: 3.5, opacity: 1 },
    textStyle: { fontSize: 14, lineHeight: 14, color: '#222', fontFamily: FONT, padding: [0, 0, 0, 5] },
  });

  return {
    animation: false,
    backgroundColor: '#ffffff',
    textStyle: { fontFamily: FONT },
    grid: GRIDS.map((g) => ({ ...g, show: true, borderColor: '#222', borderWidth: 1.5, backgroundColor: 'transparent' })),
    xAxis: xAxes,
    yAxis: yAxes,
    legend: legends,
    series,
  };
}

function buildGraphics(chart: any) {
  const els: any[] = [];
  const cx = GRIDS[0].left + GRIDS[0].width / 2;
  const txt = (x: number, y: number, text: string, size: number, extra: any = {}) => ({
    type: 'text', x, y, silent: true, z: 5, ...extra,
    style: { text, fill: '#111', font: `${size}px "${FONT}"`, textAlign: 'center', textVerticalAlign: 'middle' },
  });
  els.push(txt(cx, 30, TITLE_F, 21));
  els.push(txt(cx, 558, TITLE_T, 21));
  els.push(txt(cx, 1463, 'Fight time (seconds)', 20));
  els.push(txt(28, GRIDS[0].top + GRIDS[0].height / 2, 'Prob', 14, { rotation: Math.PI / 2 }));
  els.push(txt(28, GRIDS[1].top + GRIDS[1].height / 2, 'Prob', 14, { rotation: Math.PI / 2 }));
  els.push(txt(30, GRIDS[2].top + GRIDS[2].height / 2, 'Count', 14, { rotation: Math.PI / 2 }));

  const offs = [22, 22, 17];
  GRIDS.forEach((g, gi) => {
    ROUND_STARTS.forEach((t, i) => {
      const px = chart.convertToPixel({ xAxisIndex: gi }, t);
      els.push({
        type: 'text', x: px + 4, y: g.top + offs[gi], silent: true, z: 1,
        style: { text: ROUND_LABELS[i], fill: 'rgba(60,60,60,0.72)', font: `14px "${FONT}"`, textAlign: 'left', textVerticalAlign: 'middle' },
      });
    });
  });

  const boxes = [
    { x: 1607, y: 58, width: 464, height: 60 },
    { x: 1607, y: 586, width: 464, height: 60 },
    { x: 99, y: 1113, width: 327, height: 94 },
  ];
  boxes.forEach((b) => {
    els.push({
      type: 'rect', silent: true, z: 4,
      shape: { x: b.x, y: b.y, width: b.width, height: b.height, r: 4 },
      style: { fill: 'rgba(255,255,255,0.8)', stroke: '#d0d0d0', lineWidth: 1.2 },
    });
  });
  return els;
}

export default function App() {
  const ref = useRef<HTMLDivElement>(null);
  useEffect(() => {
    document.body.style.margin = '0';
    const chart = echarts.init(ref.current as HTMLDivElement, undefined, { renderer: 'svg' });
    chart.setOption(buildOption() as any);
    chart.setOption({ graphic: { elements: buildGraphics(chart) } } as any);
    return () => chart.dispose();
  }, []);
  return <div ref={ref} style={{ width: 2100, height: 1500 }} />;
}
